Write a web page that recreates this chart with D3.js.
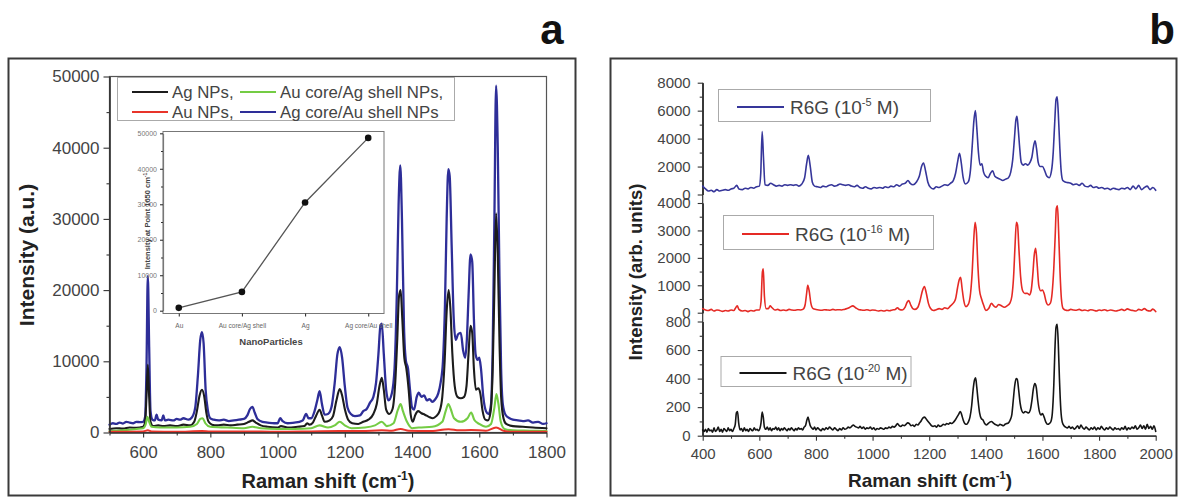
<!DOCTYPE html>
<html><head><meta charset="utf-8">
<script src="https://cdn.jsdelivr.net/npm/d3@7"></script>
<style>
body{margin:0;background:#fff}
svg{display:block}
text{font-family:"Liberation Sans",Arial,sans-serif}
</style>
</head><body>
<svg id="c" width="1179" height="497"></svg>
<script>
// ---------------- DATA ----------------
// Panel a: SERS spectra (Raman shift cm-1, intensity a.u.)
const leftXTicks = [600, 800, 1000, 1200, 1400, 1600, 1800];
const leftYTicks = [0, 10000, 20000, 30000, 40000, 50000];
const legendA = ["Ag NPs,", "Au core/Ag shell NPs,", "Au NPs,", "Ag core/Au shell NPs"];

const agCoreAuShell = [[500,1100],[510,1300],[520,1200],[530,1400],[540,1250],[550,1500],[560,1400],[570,1300],[580,1500],[590,1450],[600,1500],[606,2200],[610,9000],[614,22000],[618,12000],[622,3000],[628,1800],[635,1700],[640,2500],[645,1800],[655,1700],[660,2400],[665,1700],[675,1800],[690,1700],[700,1900],[710,1800],[720,2000],[735,1800],[745,2100],[755,3500],[763,8000],[770,13000],[775,14100],[780,12500],[786,6000],[793,3000],[800,2000],[810,1800],[825,1700],[840,1800],[855,1600],[870,1700],[885,1800],[900,1900],[910,2400],[918,3300],[925,3600],[932,2800],[940,1900],[955,1500],[970,1400],[990,1300],[1000,1300],[1008,2000],[1015,1600],[1030,1300],[1050,1400],[1065,1500],[1075,1700],[1085,2600],[1092,2000],[1100,2000],[1110,3000],[1118,4500],[1125,5800],[1132,4000],[1140,2500],[1150,2600],[1160,3500],[1170,7000],[1178,11000],[1185,12000],[1192,10500],[1200,6500],[1208,3500],[1218,2600],[1230,2300],[1245,2400],[1255,3000],[1265,3300],[1275,4200],[1285,5000],[1293,7000],[1300,11000],[1306,15000],[1310,15300],[1316,11000],[1323,6000],[1330,4500],[1340,5500],[1348,9000],[1355,20000],[1360,32000],[1365,37500],[1370,30000],[1376,15000],[1382,10000],[1388,9000],[1394,6000],[1400,3500],[1406,3200],[1414,5000],[1420,5600],[1428,5000],[1436,5200],[1444,4500],[1452,4700],[1460,4300],[1468,4600],[1478,5500],[1485,7000],[1492,10000],[1498,18000],[1503,30000],[1508,37000],[1512,36000],[1518,26000],[1524,16000],[1530,13000],[1537,13800],[1545,14000],[1552,11500],[1558,10500],[1563,13000],[1568,19000],[1574,25000],[1579,24000],[1584,16000],[1589,11000],[1595,10200],[1600,10500],[1605,9000],[1612,5000],[1620,3000],[1628,2600],[1635,4000],[1640,12000],[1645,30000],[1650,48700],[1655,40000],[1660,22000],[1665,9000],[1670,4000],[1678,2500],[1690,2000],[1700,1800],[1715,1700],[1730,1600],[1745,1700],[1760,1400],[1775,1500],[1790,1200],[1800,1300]];

const agNPs = [[500,500],[520,600],[540,550],[560,700],[580,650],[600,800],[606,1500],[610,5000],[614,9500],[618,5000],[622,1500],[630,900],[645,1000],[660,900],[680,1000],[700,900],[720,1100],[740,1000],[752,1500],[760,3000],[768,5200],[775,6000],[782,5000],[788,2800],[795,1500],[805,1100],[820,1000],[840,1100],[860,1000],[880,1100],[900,1200],[915,1500],[925,1700],[935,1400],[950,1000],[970,800],[1000,700],[1010,900],[1030,700],[1060,800],[1080,900],[1088,1300],[1095,1100],[1105,1400],[1115,2400],[1125,3200],[1132,2400],[1140,1500],[1155,1700],[1165,2300],[1175,4500],[1185,6100],[1192,5200],[1200,3300],[1210,1800],[1222,1300],[1240,1200],[1255,1500],[1270,1800],[1285,2600],[1295,4000],[1303,6500],[1310,7700],[1316,6000],[1323,3200],[1332,2600],[1342,3300],[1350,7000],[1356,13000],[1361,19000],[1366,20000],[1371,16000],[1377,10500],[1383,9000],[1390,6000],[1396,2500],[1402,1500],[1410,2500],[1418,3000],[1428,2700],[1438,2500],[1450,2200],[1462,2000],[1472,2300],[1482,3000],[1490,5000],[1497,10000],[1503,17000],[1509,20000],[1514,17500],[1520,11000],[1527,6500],[1535,5000],[1545,4800],[1555,5000],[1562,6500],[1568,11000],[1574,15000],[1579,14000],[1584,9000],[1590,6000],[1597,6200],[1603,5500],[1610,3000],[1618,1800],[1626,1700],[1634,3000],[1640,9000],[1645,20000],[1650,30800],[1655,25000],[1660,13000],[1665,5000],[1672,2000],[1680,1200],[1700,900],[1730,800],[1760,700],[1800,600]];

const auCoreAgShell = [[500,200],[540,300],[580,500],[600,600],[608,1200],[613,2200],[618,1500],[625,800],[650,700],[700,700],[740,800],[760,1200],[770,1900],[777,2000],[785,1300],[800,800],[850,700],[900,600],[925,800],[950,600],[1000,500],[1050,500],[1100,600],[1125,1000],[1150,700],[1170,1000],[1185,1500],[1200,1000],[1220,600],[1260,700],[1290,1000],[1310,1500],[1325,900],[1345,1300],[1358,3200],[1366,4000],[1373,3000],[1385,1500],[1400,600],[1420,700],[1460,800],[1490,1500],[1500,3000],[1508,4000],[1515,3300],[1525,2000],[1545,1500],[1565,2000],[1576,2800],[1585,1800],[1600,1200],[1620,800],[1635,1200],[1645,3500],[1651,5400],[1657,4000],[1664,1500],[1675,500],[1700,300],[1750,250],[1800,200]];

const auNPs = [[500,100],[600,150],[614,300],[625,150],[700,100],[775,200],[800,150],[900,150],[1000,100],[1100,150],[1185,200],[1250,200],[1310,300],[1340,250],[1366,500],[1390,250],[1450,200],[1509,450],[1540,300],[1576,350],[1620,250],[1650,700],[1675,200],[1700,100],[1800,100]];

// Inset: intensity at 1650 cm-1
const insetCategories = ["Au", "Au core/Ag shell", "Ag", "Ag core/Au shell"];
const insetValues = [800, 5300, 30500, 48700];
const insetYTicks = [0, 10000, 20000, 30000, 40000, 50000];

// Panel b: R6G spectra at three concentrations
const rightXTicks = [400, 600, 800, 1000, 1200, 1400, 1600, 1800, 2000];
const rightYTicksTop = [0, 2000, 4000, 6000, 8000];
const rightYTicksMid = [0, 1000, 2000, 3000, 4000];
const rightYTicksBot = [0, 200, 400, 600, 800];
const concExponents = ["-5", "-16", "-20"];

const r6g5 = [[400,600],[410,400],[420,250],[430,300],[440,200],[450,350],[460,250],[470,300],[480,350],[490,300],[500,400],[510,450],[520,650],[528,400],[540,350],[550,450],[560,400],[570,500],[580,450],[590,550],[600,600],[605,1500],[610,4500],[615,2500],[620,700],[630,650],[640,800],[650,700],[660,600],[670,650],[680,600],[690,700],[700,650],[710,700],[720,650],[730,700],[740,600],[750,750],[760,1200],[767,2200],[773,2800],[780,2000],[787,900],[795,600],[805,550],[815,500],[825,600],[835,550],[845,650],[855,700],[865,600],[875,650],[885,750],[895,700],[905,650],[915,700],[925,600],[935,550],[945,650],[955,500],[965,450],[975,550],[985,450],[995,400],[1005,500],[1015,450],[1025,500],[1035,450],[1045,550],[1055,500],[1065,600],[1075,550],[1085,700],[1095,600],[1105,750],[1115,800],[1125,1000],[1133,800],[1143,700],[1155,900],[1165,1300],[1173,2000],[1180,2250],[1187,1700],[1195,900],[1205,500],[1215,400],[1225,550],[1235,500],[1245,600],[1255,700],[1265,650],[1275,800],[1285,1000],[1293,1500],[1300,2300],[1307,2950],[1313,2300],[1320,1200],[1328,750],[1338,900],[1346,1800],[1352,3500],[1358,5300],[1363,6000],[1368,4800],[1374,3000],[1380,2100],[1386,2200],[1392,1600],[1400,1300],[1408,1200],[1416,1500],[1424,1700],[1432,1300],[1440,1200],[1450,1100],[1460,1000],[1470,1100],[1480,1200],[1488,1600],[1495,2500],[1501,4000],[1506,5300],[1510,5600],[1514,4800],[1519,3500],[1525,2300],[1532,2100],[1540,2200],[1548,2100],[1556,2300],[1563,2700],[1569,3500],[1574,3850],[1579,3300],[1585,2300],[1592,2000],[1600,2000],[1608,1700],[1616,1300],[1624,1200],[1632,1700],[1638,3000],[1643,5000],[1648,6800],[1652,7000],[1656,5800],[1661,3500],[1666,1700],[1672,1000],[1680,900],[1690,850],[1700,800],[1710,700],[1720,750],[1730,650],[1740,800],[1750,600],[1760,550],[1770,650],[1780,500],[1790,550],[1800,450],[1810,500],[1820,400],[1830,450],[1840,350],[1850,450],[1860,400],[1870,350],[1880,450],[1890,400],[1900,500],[1910,350],[1920,600],[1930,400],[1940,650],[1950,350],[1960,500],[1970,600],[1980,350],[1990,500],[2000,300]];

const r6g16 = [[400,150],[410,100],[420,80],[430,120],[440,60],[450,100],[460,80],[470,50],[480,80],[490,60],[500,100],[510,80],[515,150],[522,250],[528,120],[540,60],[550,80],[560,40],[570,80],[580,60],[590,100],[600,100],[606,400],[611,1500],[614,1600],[618,600],[624,150],[632,150],[638,250],[645,180],[655,100],[665,120],[675,80],[685,100],[695,80],[705,120],[715,100],[725,90],[735,110],[745,100],[755,130],[762,300],[767,700],[771,1000],[776,800],[782,350],[790,150],[800,120],[810,100],[820,90],[830,110],[840,100],[850,90],[860,120],[870,100],[880,110],[890,100],[900,120],[910,150],[920,200],[930,250],[940,180],[950,120],[960,100],[970,90],[980,110],[990,80],[1000,100],[1010,90],[1020,60],[1030,80],[1040,60],[1050,90],[1060,70],[1070,100],[1080,120],[1088,180],[1095,120],[1105,100],[1115,200],[1122,380],[1128,440],[1134,300],[1142,150],[1150,120],[1160,200],[1168,450],[1176,800],[1183,950],[1190,700],[1197,350],[1205,150],[1215,80],[1225,110],[1235,150],[1245,120],[1255,180],[1265,150],[1275,250],[1285,350],[1293,500],[1300,900],[1306,1200],[1311,1290],[1316,900],[1322,450],[1330,220],[1338,300],[1346,700],[1352,1500],[1357,2600],[1362,3300],[1367,2900],[1372,1700],[1378,800],[1385,500],[1393,250],[1400,80],[1410,150],[1420,340],[1428,250],[1436,200],[1445,300],[1455,250],[1465,200],[1475,250],[1485,350],[1492,600],[1498,1300],[1503,2400],[1508,3300],[1512,3200],[1517,2300],[1523,1300],[1530,800],[1538,700],[1546,710],[1554,650],[1560,800],[1566,1400],[1571,2100],[1576,2350],[1581,1800],[1587,1000],[1594,800],[1600,830],[1606,700],[1613,400],[1620,280],[1628,350],[1634,700],[1640,1600],[1645,2800],[1649,3800],[1653,3900],[1657,3000],[1662,1500],[1667,500],[1673,150],[1680,100],[1690,80],[1700,120],[1710,100],[1720,90],[1730,120],[1740,80],[1750,100],[1760,70],[1770,110],[1780,90],[1790,60],[1800,100],[1810,80],[1820,110],[1830,70],[1840,100],[1850,80],[1860,60],[1870,90],[1880,120],[1890,80],[1900,140],[1910,100],[1920,80],[1930,60],[1940,120],[1950,90],[1960,150],[1970,80],[1980,60],[1990,130],[2000,40]];

const r6g20 = [[400,40],[405,30],[410,45],[415,25],[420,50],[425,35],[430,40],[435,25],[440,55],[445,30],[450,40],[455,60],[460,30],[465,45],[470,25],[475,50],[480,40],[485,30],[490,55],[495,35],[500,45],[505,30],[510,50],[515,80],[519,160],[523,170],[527,90],[532,40],[537,50],[542,30],[547,55],[552,35],[557,45],[562,30],[567,50],[572,40],[577,35],[582,55],[587,40],[592,45],[597,35],[602,50],[606,90],[610,165],[614,130],[618,60],[623,45],[628,60],[633,40],[638,55],[643,35],[648,50],[653,45],[658,60],[663,40],[668,55],[673,35],[678,50],[683,40],[688,55],[693,45],[698,35],[703,50],[708,40],[713,55],[718,45],[723,35],[728,50],[733,40],[738,55],[743,45],[748,50],[753,40],[758,60],[763,70],[768,110],[772,130],[776,100],[780,70],[785,55],[790,45],[795,60],[800,40],[806,55],[812,45],[818,35],[824,50],[830,40],[836,55],[842,45],[848,60],[854,50],[860,40],[866,55],[872,45],[878,35],[884,50],[890,40],[896,55],[902,45],[908,50],[914,60],[920,55],[926,65],[932,75],[938,65],[944,60],[950,55],[956,65],[962,50],[968,60],[974,45],[980,55],[986,50],[992,60],[998,45],[1004,55],[1010,40],[1016,50],[1022,45],[1028,55],[1034,50],[1040,45],[1046,55],[1052,50],[1058,60],[1064,55],[1070,65],[1076,60],[1082,70],[1088,85],[1094,70],[1100,65],[1106,75],[1112,70],[1118,80],[1124,90],[1130,85],[1136,70],[1142,75],[1148,65],[1154,80],[1160,75],[1166,90],[1172,105],[1178,125],[1184,130],[1190,115],[1196,100],[1202,85],[1208,70],[1214,65],[1220,70],[1226,60],[1232,75],[1238,65],[1244,70],[1250,80],[1256,75],[1262,85],[1268,80],[1274,90],[1280,85],[1286,95],[1292,110],[1298,130],[1304,150],[1310,170],[1315,145],[1320,110],[1326,85],[1332,80],[1338,95],[1344,130],[1350,210],[1355,320],[1360,390],[1364,405],[1368,340],[1373,240],[1378,160],[1384,120],[1390,110],[1396,85],[1402,75],[1408,85],[1414,95],[1420,100],[1426,90],[1432,80],[1438,75],[1444,70],[1450,80],[1456,75],[1462,70],[1468,80],[1474,85],[1480,90],[1486,110],[1492,150],[1497,250],[1502,350],[1507,400],[1511,395],[1516,320],[1521,230],[1527,175],[1533,160],[1539,170],[1545,165],[1551,160],[1557,180],[1563,250],[1568,330],[1573,365],[1578,340],[1583,250],[1589,170],[1595,145],[1600,155],[1606,130],[1612,95],[1618,80],[1624,85],[1630,100],[1635,160],[1640,350],[1644,600],[1648,760],[1652,780],[1656,640],[1660,400],[1665,180],[1670,95],[1676,70],[1682,60],[1688,55],[1694,65],[1700,50],[1706,60],[1712,45],[1718,55],[1724,70],[1730,50],[1736,75],[1742,55],[1748,45],[1754,60],[1760,50],[1766,40],[1772,55],[1778,45],[1784,60],[1790,40],[1796,55],[1802,45],[1808,65],[1814,50],[1820,40],[1826,55],[1832,45],[1838,60],[1844,50],[1850,40],[1856,55],[1862,45],[1868,50],[1874,40],[1880,55],[1886,45],[1892,65],[1898,40],[1904,55],[1910,45],[1916,60],[1922,50],[1928,70],[1934,45],[1940,55],[1946,75],[1952,50],[1958,70],[1964,45],[1970,80],[1976,50],[1982,65],[1988,45],[1994,70],[2000,30]];

// ---------------- DRAWING ----------------
const svg = d3.select("#c");
const FONT = '"Liberation Sans",Arial,sans-serif';
const lineGen = (x, y) => d3.line().x(d => x(d[0])).y(d => y(d[1])).curve(d3.curveMonotoneX);
function drawSeries(g, data, x, y, color, w) {
  g.append("path").datum(data).attr("d", lineGen(x, y))
    .attr("fill", "none").attr("stroke", color).attr("stroke-width", w)
    .attr("stroke-linejoin", "round").attr("stroke-linecap", "round");
}
function styleAxis(g, fs, col) {
  g.selectAll(".domain").attr("stroke", "#333").attr("stroke-width", 1.2);
  g.selectAll(".tick line").attr("stroke", "#333").attr("stroke-width", 1.1);
  g.selectAll(".tick text").attr("font-family", FONT).attr("font-size", fs).attr("fill", col || "#444");
}
function minorTicks(from, to, step) { const a = []; for (let v = from; v <= to + 1e-9; v += step) a.push(v); return a; }

// Panel borders
svg.append("rect").attr("x", 8.5).attr("y", 58.5).attr("width", 567).attr("height", 437)
  .attr("fill", "none").attr("stroke", "#3a3a3a").attr("stroke-width", 2);
svg.append("rect").attr("x", 610.5).attr("y", 58.5).attr("width", 566).attr("height", 437)
  .attr("fill", "none").attr("stroke", "#3a3a3a").attr("stroke-width", 2);

// Panel letters
svg.append("text").attr("x", 552).attr("y", 44).attr("text-anchor", "middle")
  .attr("font-family", FONT).attr("font-weight", "bold").attr("font-size", 42).attr("fill", "#111").text("a");
svg.append("text").attr("x", 1162).attr("y", 44).attr("text-anchor", "middle")
  .attr("font-family", FONT).attr("font-weight", "bold").attr("font-size", 42).attr("fill", "#111").text("b");

// ===== Panel a =====
const xA = d3.scaleLinear().domain([500, 1800]).range([109.5, 546.5]);
const yA = d3.scaleLinear().domain([0, 50000]).range([432.5, 76.5]);
const gA = svg.append("g");

// frame
gA.append("rect").attr("x", 109.5).attr("y", 76.5).attr("width", 437).attr("height", 356)
  .attr("fill", "none").attr("stroke", "#555").attr("stroke-width", 1.2);

// spectra
drawSeries(gA, agCoreAuShell, xA, yA, "#2e2e98", 2.3);
drawSeries(gA, agNPs, xA, yA, "#1c1c1c", 2.1);
drawSeries(gA, auCoreAgShell, xA, yA, "#74cc44", 2.1);
drawSeries(gA, auNPs, xA, yA, "#e8342a", 2);

// axes
const axAy = gA.append("g").attr("transform", "translate(109.5,0)")
  .call(d3.axisLeft(yA).tickValues(leftYTicks).tickFormat(d3.format("d")).tickSize(6).tickPadding(4).tickSizeOuter(0));
styleAxis(axAy, 17);
const axAym = gA.append("g").attr("transform", "translate(109.5,0)")
  .call(d3.axisLeft(yA).tickValues(minorTicks(5000, 45000, 10000)).tickFormat("").tickSize(3).tickSizeOuter(0));
styleAxis(axAym, 17);
const axAx = gA.append("g").attr("transform", "translate(0,432.5)")
  .call(d3.axisBottom(xA).tickValues(leftXTicks).tickFormat(d3.format("d")).tickSize(5).tickPadding(8).tickSizeOuter(0));
styleAxis(axAx, 17);
const axAxm = gA.append("g").attr("transform", "translate(0,432.5)")
  .call(d3.axisBottom(xA).tickValues(minorTicks(500, 1700, 200)).tickFormat("").tickSize(3).tickSizeOuter(0));
styleAxis(axAxm, 17);

// titles
gA.append("text").attr("transform", "translate(34,255) rotate(-90)").attr("text-anchor", "middle")
  .attr("font-family", FONT).attr("font-weight", "bold").attr("font-size", 21).attr("fill", "#222")
  .text("Intensity (a.u.)");
const tA = gA.append("text").attr("x", 328).attr("y", 488).attr("text-anchor", "middle")
  .attr("font-family", FONT).attr("font-weight", "bold").attr("font-size", 20).attr("fill", "#222");
tA.append("tspan").text("Raman shift (cm");
tA.append("tspan").attr("dy", -8).attr("font-size", 12).text("-1");
tA.append("tspan").attr("dy", 8).text(")");

// legend
const lg = gA.append("g");
lg.append("rect").attr("x", 117.5).attr("y", 77.5).attr("width", 337).attr("height", 43)
  .attr("fill", "#fff").attr("stroke", "#aaa").attr("stroke-width", 1);
const legColors = ["#1c1c1c", "#74cc44", "#e8342a", "#2e2e98"];
const legPos = [[132, 92], [240, 92], [132, 112], [240, 112]];
legendA.forEach((t, i) => {
  const [lx, ly] = legPos[i];
  lg.append("line").attr("x1", lx).attr("x2", lx + 36).attr("y1", ly).attr("y2", ly)
    .attr("stroke", legColors[i]).attr("stroke-width", 1.8);
  lg.append("text").attr("x", lx + 40).attr("y", ly + 5.5).attr("font-family", FONT)
    .attr("font-size", 16.8).attr("fill", "#444").text(t);
});

// inset
const xI = d3.scalePoint().domain(insetCategories).range([163, 384]).padding(0.25);
const yI = d3.scaleLinear().domain([0, 50000]).range([310.7, 133.3]);
const gI = gA.append("g");
gI.append("rect").attr("x", 163).attr("y", 131.5).attr("width", 221).attr("height", 182)
  .attr("fill", "#fff").attr("stroke", "#777").attr("stroke-width", 1);
const axIy = gI.append("g").attr("transform", "translate(163,0)")
  .call(d3.axisLeft(yI).tickValues(insetYTicks).tickFormat(d3.format("d")).tickSize(3).tickPadding(3).tickSizeOuter(0));
styleAxis(axIy, 7, "#777");
axIy.selectAll(".domain").attr("stroke", "#777");
const axIym = gI.append("g").attr("transform", "translate(163,0)")
  .call(d3.axisLeft(yI).tickValues(minorTicks(5000, 45000, 10000)).tickFormat("").tickSize(2).tickSizeOuter(0));
styleAxis(axIym, 7);
axIym.selectAll(".domain").remove();
const axIx = gI.append("g").attr("transform", "translate(0,313.5)")
  .call(d3.axisBottom(xI).tickSize(3).tickPadding(7).tickSizeOuter(0));
styleAxis(axIx, 6.5, "#666");
axIx.selectAll(".domain").remove();
gI.append("path").datum(insetCategories.map((c, i) => [c, insetValues[i]]))
  .attr("d", d3.line().x(d => xI(d[0])).y(d => yI(d[1])))
  .attr("fill", "none").attr("stroke", "#555").attr("stroke-width", 1.3);
gI.selectAll("circle").data(insetValues).join("circle")
  .attr("cx", (d, i) => xI(insetCategories[i])).attr("cy", d => yI(d)).attr("r", 3.3).attr("fill", "#111");
const tI = gI.append("text").attr("transform", "translate(150,221) rotate(-90)").attr("text-anchor", "middle")
  .attr("font-family", FONT).attr("font-weight", "bold").attr("font-size", 7.5).attr("fill", "#444");
tI.append("tspan").text("Intensity at Point 1650 cm");
tI.append("tspan").attr("dy", -3).attr("font-size", 5).text("-1");
gI.append("text").attr("x", 271).attr("y", 345).attr("text-anchor", "middle")
  .attr("font-family", FONT).attr("font-weight", "bold").attr("font-size", 9.5).attr("fill", "#444").text("NanoParticles");

// ===== Panel b =====
const xB = d3.scaleLinear().domain([400, 2000]).range([702.7, 1155.7]);
const yTop = d3.scaleLinear().domain([0, 8000]).range([194.5, 82.7]);
const yMid = d3.scaleLinear().domain([0, 4000]).range([312.7, 203]);
const yBot = d3.scaleLinear().domain([0, 800]).range([435.7, 321.5]);
const gB = svg.append("g");

// axes
gB.append("line").attr("x1", 702.7).attr("x2", 702.7).attr("y1", 82.7).attr("y2", 435.7)
  .attr("stroke", "#333").attr("stroke-width", 1.2);
[[yTop, rightYTicksTop, 1000], [yMid, rightYTicksMid, 500], [yBot, rightYTicksBot, 100]].forEach(([ys, ticks, mstep]) => {
  const a = gB.append("g").attr("transform", "translate(702.7,0)")
    .call(d3.axisLeft(ys).tickValues(ticks).tickFormat(d3.format("d")).tickSize(5).tickPadding(7).tickSizeOuter(0));
  styleAxis(a, 15);
  const m = gB.append("g").attr("transform", "translate(702.7,0)")
    .call(d3.axisLeft(ys).tickValues(minorTicks(mstep, ticks[ticks.length - 1], mstep * 2)).tickFormat("").tickSize(3).tickSizeOuter(0));
  styleAxis(m, 15);
});
const axBx = gB.append("g").attr("transform", "translate(0,435.7)")
  .call(d3.axisBottom(xB).tickValues(rightXTicks).tickFormat(d3.format("d")).tickSize(5).tickPadding(8).tickSizeOuter(0));
styleAxis(axBx, 15);
const axBxm = gB.append("g").attr("transform", "translate(0,435.7)")
  .call(d3.axisBottom(xB).tickValues(minorTicks(500, 1900, 200)).tickFormat("").tickSize(3).tickSizeOuter(0));
styleAxis(axBxm, 15);

// spectra
drawSeries(gB, r6g5, xB, yTop, "#36369a", 1.6);
drawSeries(gB, r6g16, xB, yMid, "#e52a25", 1.6);
drawSeries(gB, r6g20, xB, yBot, "#151515", 1.6);

// titles
gB.append("text").attr("transform", "translate(642,272) rotate(-90)").attr("text-anchor", "middle")
  .attr("font-family", FONT).attr("font-weight", "bold").attr("font-size", 18.5).attr("fill", "#222")
  .text("Intensity (arb. units)");
const tB = gB.append("text").attr("x", 930).attr("y", 487).attr("text-anchor", "middle")
  .attr("font-family", FONT).attr("font-weight", "bold").attr("font-size", 19).attr("fill", "#222");
tB.append("tspan").text("Raman shift (cm");
tB.append("tspan").attr("dy", -8).attr("font-size", 11).text("-1");
tB.append("tspan").attr("dy", 8).text(")");

// legends
const legB = [
  { box: [718, 89, 212, 32], y: 107, color: "#36369a" },
  { box: [723, 215, 210, 34], y: 234, color: "#e52a25" },
  { box: [720.5, 356, 190, 30], y: 373, color: "#151515" }
];
legB.forEach((L, i) => {
  const [bx, by, bw, bh] = L.box;
  gB.append("rect").attr("x", bx + 0.5).attr("y", by + 0.5).attr("width", bw).attr("height", bh)
    .attr("fill", "#fff").attr("stroke", "#aaa").attr("stroke-width", 1);
  gB.append("line").attr("x1", bx + 19).attr("x2", bx + 66).attr("y1", L.y).attr("y2", L.y)
    .attr("stroke", L.color).attr("stroke-width", 1.8);
  const t = gB.append("text").attr("x", bx + 72).attr("y", L.y + 6.5).attr("font-family", FONT)
    .attr("font-size", 19).attr("fill", "#444");
  t.append("tspan").text("R6G (10");
  t.append("tspan").attr("dy", -8).attr("font-size", 11).text(concExponents[i]);
  t.append("tspan").attr("dy", 8).text(" M)");
});
</script>
</body></html>
